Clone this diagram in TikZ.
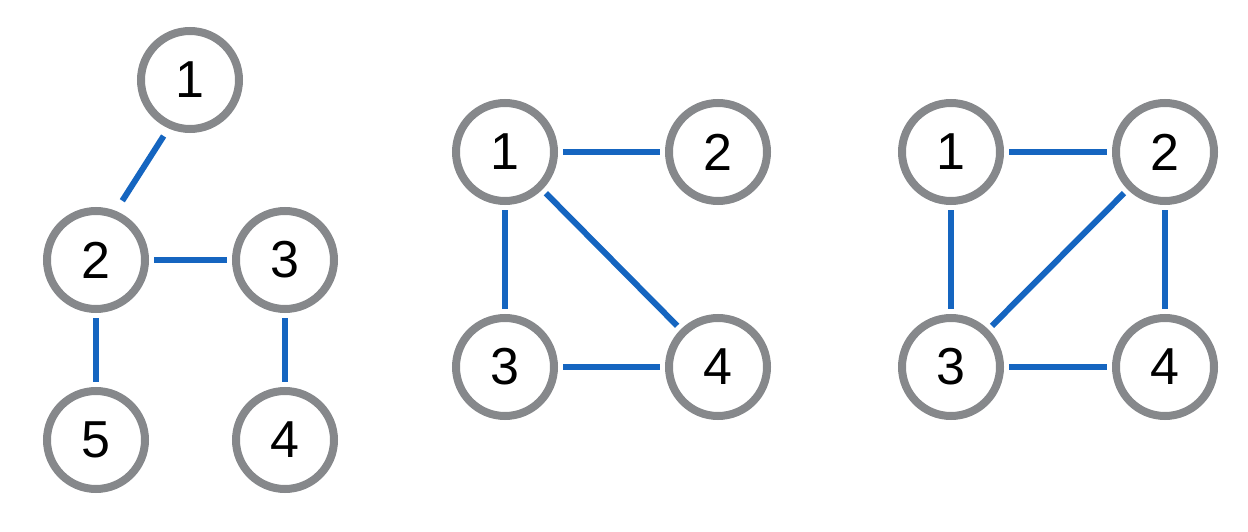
\documentclass[tikz,border=0pt]{standalone}
\usepackage{fontspec}
\setmainfont{Liberation Sans}
\definecolor{ringgray}{HTML}{86888B}
\definecolor{linkblue}{HTML}{1565C0}
\begin{document}
\begin{tikzpicture}[x=1pt,y=-1pt,
  vtx/.style={circle,draw=ringgray,line width=8pt,minimum size=98pt,inner sep=0pt,
              font=\fontsize{52}{56}\selectfont},
  link/.style={draw=linkblue,line width=6pt,shorten <=5pt,shorten >=5pt}]
\useasboundingbox (0,0) rectangle (1248,532);
% graph 1
\node[vtx] (a1) at (190,80) {1};
\node[vtx] (a2) at (96,260) {2};
\node[vtx] (a3) at (285,260) {3};
\node[vtx] (a4) at (285,440) {4};
\node[vtx] (a5) at (96,440) {5};
\draw[link,shorten <=9pt,shorten >=12pt] (a1.246) -- (a2.68.5);
\draw[link] (a2) -- (a3);
\draw[link] (a2) -- (a5);
\draw[link] (a3) -- (a4);
% graph 2
\node[vtx] (b1) at (505,152) {1};
\node[vtx] (b2) at (718,152) {2};
\node[vtx] (b3) at (505,367) {3};
\node[vtx] (b4) at (718,367) {4};
\draw[link] (b1) -- (b2);
\draw[link] (b1) -- (b3);
\draw[link] (b3) -- (b4);
\draw[link] (b1) -- (b4);
% graph 3
\node[vtx] (c1) at (951,152) {1};
\node[vtx] (c2) at (1165,152) {2};
\node[vtx] (c3) at (951,367) {3};
\node[vtx] (c4) at (1165,367) {4};
\draw[link] (c1) -- (c2);
\draw[link] (c1) -- (c3);
\draw[link] (c2) -- (c4);
\draw[link] (c3) -- (c4);
\draw[link] (c2) -- (c3);
\end{tikzpicture}
\end{document}
